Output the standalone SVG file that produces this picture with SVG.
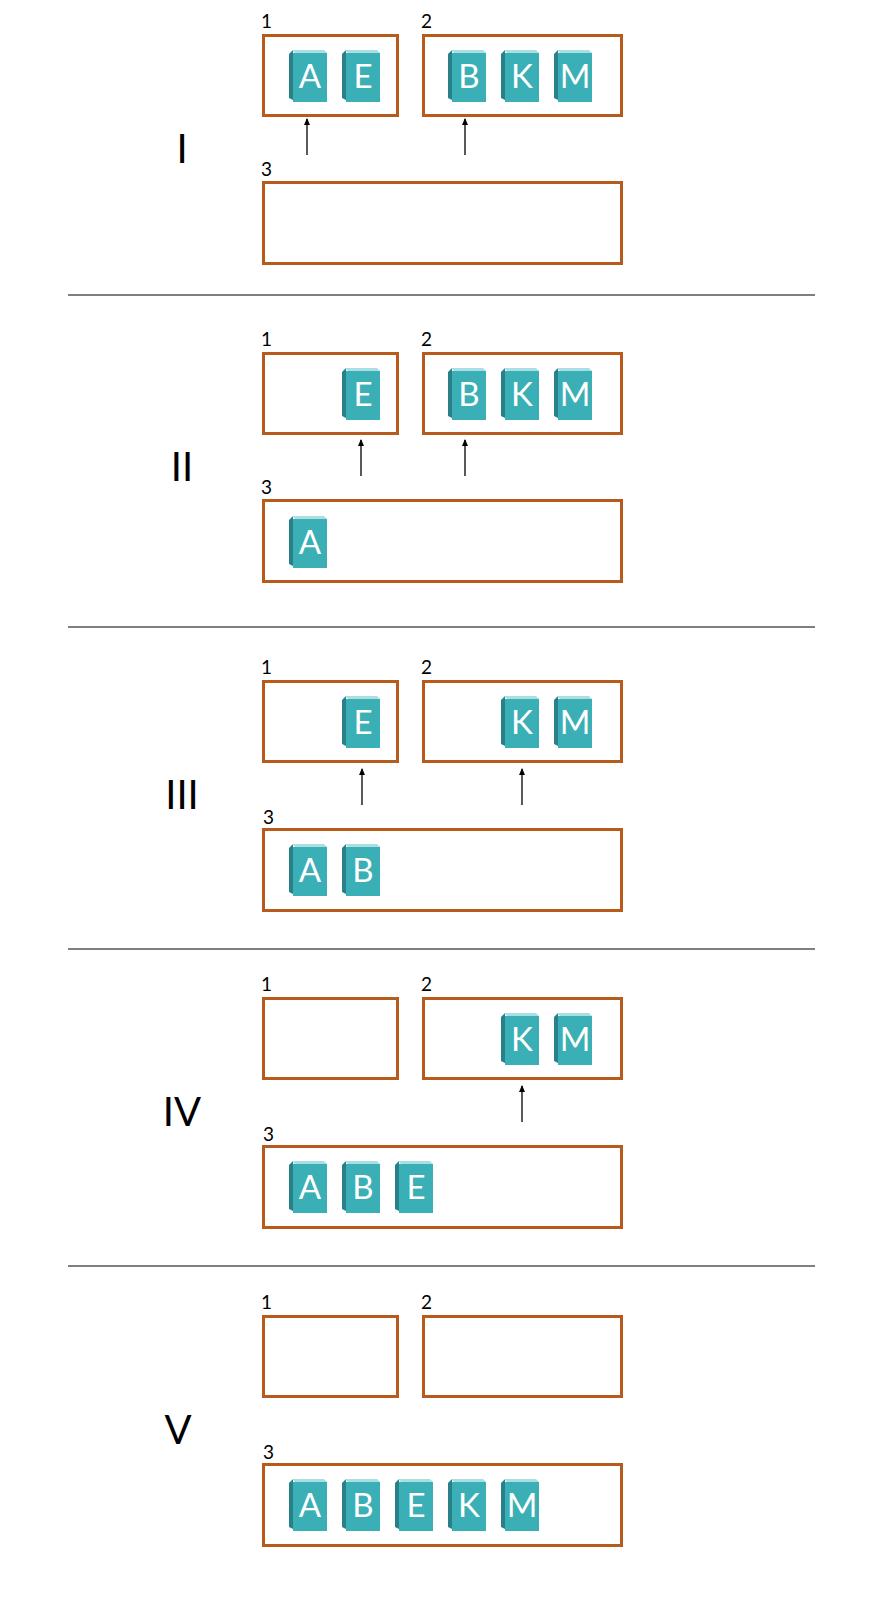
<svg xmlns="http://www.w3.org/2000/svg" xmlns:xlink="http://www.w3.org/1999/xlink" width="890" height="1600" viewBox="0 0 890 1600">
<style>
.box{fill:none;stroke:#b85a1c;stroke-width:3}
.num{font-family:Lato,"Liberation Sans",sans-serif;font-size:19px;fill:#000}
.rom{font-family:Lato,"Liberation Sans",sans-serif;font-size:40px;fill:#000;text-anchor:middle}
.lt{font-family:Lato,"Open Sans",sans-serif;font-size:33px;fill:#fff;text-anchor:middle}
.sep{stroke:#000;stroke-width:1}
.arr{stroke:#000;stroke-width:1.3;marker-end:url(#ah)}
</style>
<defs>
<marker id="ah" markerWidth="8" markerHeight="8" refX="6" refY="4" orient="auto" markerUnits="userSpaceOnUse"><path d="M0,1 L7,4 L0,7 Z" fill="#000"/></marker>
<g id="book">
<polygon points="0,4 4,0 4,50 0,48" fill="#2a8088"/>
<polygon points="3,0 35,0 38,3 6,3" fill="#a9dfe2"/>
<rect x="4" y="3" width="34" height="49" fill="#3aafb6"/>
</g>
</defs>
<g id="separators">
<line class="sep" x1="68" y1="295" x2="815" y2="295"/>
<line class="sep" x1="68" y1="627" x2="815" y2="627"/>
<line class="sep" x1="68" y1="949" x2="815" y2="949"/>
<line class="sep" x1="68" y1="1266" x2="815" y2="1266"/>
</g>
<g id="stageI">
<text class="rom" x="182" y="163">I</text>
<rect class="box" x="263.5" y="35.5" width="134" height="80"/><text class="num" x="261" y="28">1</text>
<rect class="box" x="423.5" y="35.5" width="198" height="80"/><text class="num" x="421" y="28">2</text>
<rect class="box" x="263.5" y="182.5" width="358" height="81"/><text class="num" x="261" y="176">3</text>
<use xlink:href="#book" x="289" y="50"/><text class="lt" x="310" y="88">A</text>
<use xlink:href="#book" x="342" y="50"/><text class="lt" x="363" y="88">E</text>
<use xlink:href="#book" x="448" y="50"/><text class="lt" x="469" y="88">B</text>
<use xlink:href="#book" x="501" y="50"/><text class="lt" x="522" y="88">K</text>
<use xlink:href="#book" x="554" y="50"/><text class="lt" x="575" y="88">M</text>
</g>
<g id="stageII" transform="translate(0,318)">
<text class="rom" x="182" y="163">II</text>
<rect class="box" x="263.5" y="35.5" width="134" height="80"/><text class="num" x="261" y="28">1</text>
<rect class="box" x="423.5" y="35.5" width="198" height="80"/><text class="num" x="421" y="28">2</text>
<rect class="box" x="263.5" y="182.5" width="358" height="81"/><text class="num" x="261" y="176">3</text>
<use xlink:href="#book" x="342" y="50"/><text class="lt" x="363" y="88">E</text>
<use xlink:href="#book" x="448" y="50"/><text class="lt" x="469" y="88">B</text>
<use xlink:href="#book" x="501" y="50"/><text class="lt" x="522" y="88">K</text>
<use xlink:href="#book" x="554" y="50"/><text class="lt" x="575" y="88">M</text>
<use xlink:href="#book" x="289" y="198"/><text class="lt" x="310" y="236">A</text>
</g>
<g id="stageIII" transform="translate(0,646)">
<text class="rom" x="182" y="163">III</text>
<rect class="box" x="263.5" y="35.5" width="134" height="80"/><text class="num" x="261" y="28">1</text>
<rect class="box" x="423.5" y="35.5" width="198" height="80"/><text class="num" x="421" y="28">2</text>
<rect class="box" x="263.5" y="183.5" width="358" height="81"/><text class="num" x="263" y="178">3</text>
<use xlink:href="#book" x="342" y="50"/><text class="lt" x="363" y="88">E</text>
<use xlink:href="#book" x="501" y="50"/><text class="lt" x="522" y="88">K</text>
<use xlink:href="#book" x="554" y="50"/><text class="lt" x="575" y="88">M</text>
<use xlink:href="#book" x="289" y="198"/><text class="lt" x="310" y="236">A</text>
<use xlink:href="#book" x="342" y="198"/><text class="lt" x="363" y="236">B</text>
</g>
<g id="stageIV" transform="translate(0,963)">
<text class="rom" x="182" y="163">IV</text>
<rect class="box" x="263.5" y="35.5" width="134" height="80"/><text class="num" x="261" y="28">1</text>
<rect class="box" x="423.5" y="35.5" width="198" height="80"/><text class="num" x="421" y="28">2</text>
<rect class="box" x="263.5" y="183.5" width="358" height="81"/><text class="num" x="263" y="178">3</text>
<use xlink:href="#book" x="501" y="50"/><text class="lt" x="522" y="88">K</text>
<use xlink:href="#book" x="554" y="50"/><text class="lt" x="575" y="88">M</text>
<use xlink:href="#book" x="289" y="198"/><text class="lt" x="310" y="236">A</text>
<use xlink:href="#book" x="342" y="198"/><text class="lt" x="363" y="236">B</text>
<use xlink:href="#book" x="395" y="198"/><text class="lt" x="416" y="236">E</text>
</g>
<g id="stageV" transform="translate(0,1281)">
<text class="rom" x="178" y="163">V</text>
<rect class="box" x="263.5" y="35.5" width="134" height="80"/><text class="num" x="261" y="28">1</text>
<rect class="box" x="423.5" y="35.5" width="198" height="80"/><text class="num" x="421" y="28">2</text>
<rect class="box" x="263.5" y="183.5" width="358" height="81"/><text class="num" x="263" y="178">3</text>
<use xlink:href="#book" x="289" y="198"/><text class="lt" x="310" y="236">A</text>
<use xlink:href="#book" x="342" y="198"/><text class="lt" x="363" y="236">B</text>
<use xlink:href="#book" x="395" y="198"/><text class="lt" x="416" y="236">E</text>
<use xlink:href="#book" x="448" y="198"/><text class="lt" x="469" y="236">K</text>
<use xlink:href="#book" x="501" y="198"/><text class="lt" x="522" y="236">M</text>
</g>
<g id="connectors">
<line class="arr" x1="307" y1="155" x2="307" y2="119"/>
<line class="arr" x1="465" y1="155" x2="465" y2="119"/>
<line class="arr" x1="361" y1="476" x2="361" y2="440"/>
<line class="arr" x1="465" y1="476" x2="465" y2="440"/>
<line class="arr" x1="362" y1="805" x2="362" y2="769"/>
<line class="arr" x1="522" y1="805" x2="522" y2="769"/>
<line class="arr" x1="522" y1="1122" x2="522" y2="1086"/>
</g>
</svg>
